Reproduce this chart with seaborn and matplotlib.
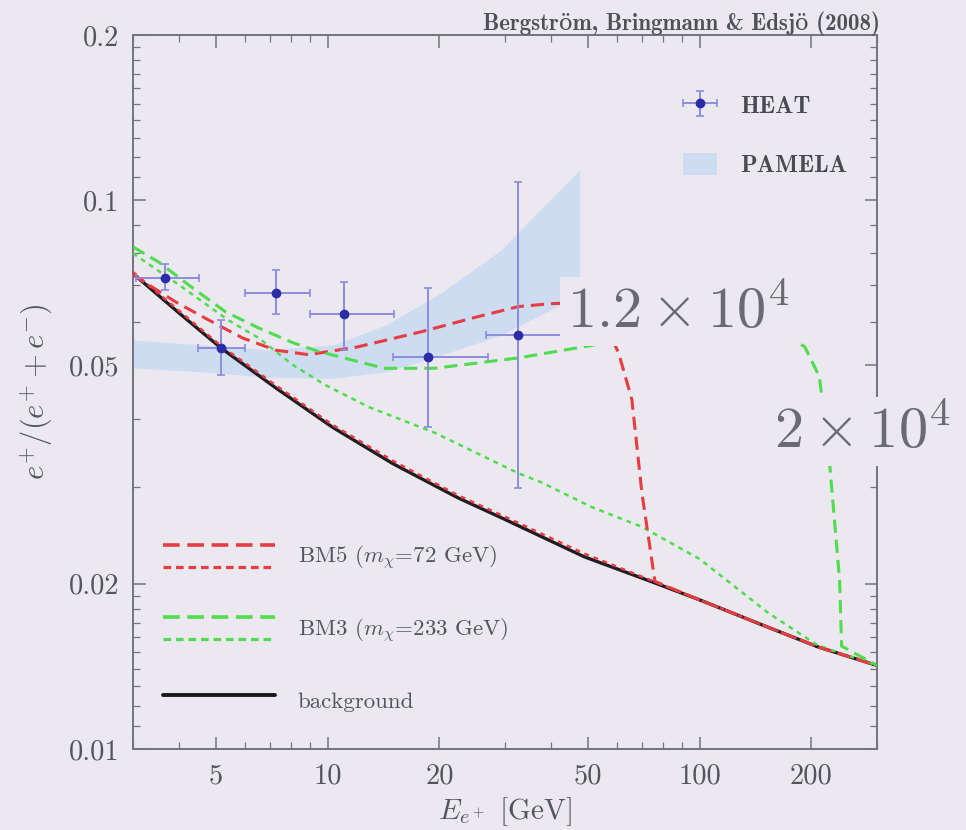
import matplotlib
matplotlib.use("Agg")
import matplotlib.pyplot as plt
import seaborn as sns
from matplotlib.ticker import FixedLocator, FixedFormatter, NullFormatter
from matplotlib.lines import Line2D
from matplotlib.legend_handler import HandlerBase, HandlerErrorbar
from matplotlib.container import ErrorbarContainer

# ---------------- data ----------------
bg_E = [3.0, 4.0, 5.17, 7.26, 10.3, 15.0, 22.4, 30.0, 49.0, 74.0, 100.0, 150.0, 208.0, 300.0]
bg_ratio = [0.0735, 0.0622, 0.0538, 0.0455, 0.0386, 0.0331, 0.0287, 0.0262, 0.0224, 0.0202,
            0.0187, 0.01675, 0.01535, 0.0142]

bm5_dash_E = [3.0, 3.9, 4.79, 5.91, 7.26, 8.9, 12.0, 17.9, 25.0, 32.6, 40.0, 46.0, 50.0, 55.0,
              58.0, 60.6, 65.8, 70.0, 75.9, 100.0, 150.0, 208.0, 300.0]
bm5_dash_ratio = [0.0731, 0.0653, 0.0605, 0.0561, 0.0533, 0.0523, 0.0540, 0.0576, 0.0612, 0.0640,
                  0.0648, 0.0650, 0.0645, 0.0610, 0.0561, 0.0527, 0.0433, 0.0293, 0.0202, 0.0187,
                  0.01675, 0.01535, 0.0142]

bm5_dot_E = [3.0, 4.0, 5.17, 7.26, 10.3, 15.0, 22.4, 30.0, 49.0, 74.0, 100.0, 150.0, 208.0, 300.0]
bm5_dot_ratio = [0.0740, 0.0628, 0.0543, 0.0460, 0.0390, 0.0335, 0.0290, 0.0265, 0.0227, 0.0203,
                 0.0187, 0.01675, 0.01535, 0.0142]

bm3_dash_E = [3.0, 3.51, 4.34, 5.32, 6.53, 8.07, 9.48, 14.2, 19.4, 32.6, 52.3, 58.0, 70.0, 100.0,
              140.0, 174.0, 192.0, 210.0, 223.0, 238.0, 241.0, 300.0]
bm3_dash_ratio = [0.0822, 0.0772, 0.0692, 0.0626, 0.0585, 0.0550, 0.0530, 0.0494, 0.0494, 0.0516,
                  0.0545, 0.0561, 0.0565, 0.0567, 0.0567, 0.0565, 0.0540, 0.0477, 0.0340, 0.0203,
                  0.0154, 0.0142]

bm3_dot_E = [3.0, 4.0, 5.4, 6.53, 8.07, 9.9, 12.9, 19.4, 32.6, 37.6, 51.3, 70.0, 100.0, 112.0,
             153.0, 192.0, 208.0, 300.0]
bm3_dot_ratio = [0.0800, 0.0700, 0.0605, 0.0561, 0.0501, 0.0460, 0.0420, 0.0377, 0.0318, 0.0306,
                 0.0276, 0.0254, 0.0222, 0.0209, 0.0177, 0.0160, 0.01545, 0.0142]

heat_E = [3.66, 5.17, 7.26, 11.1, 18.6, 32.6]
heat_ratio = [0.0721, 0.0538, 0.0678, 0.0621, 0.0519, 0.0568]
heat_E_lo = [3.05, 4.48, 6.0, 9.0, 15.0, 26.7]
heat_E_hi = [4.5, 6.0, 9.0, 15.1, 27.0, 43.3]
heat_ratio_lo = [0.0687, 0.0481, 0.0620, 0.0533, 0.0386, 0.0299]
heat_ratio_hi = [0.0765, 0.0605, 0.0747, 0.0710, 0.0692, 0.108]

pam_E = [3.0, 4.56, 6.91, 10.4, 14.4, 20.2, 29.3, 47.6]
pam_lo = [0.0495, 0.0487, 0.0476, 0.0474, 0.0487, 0.0522, 0.0568, 0.0672]
pam_hi = [0.0556, 0.0545, 0.0534, 0.0545, 0.0593, 0.0678, 0.0812, 0.1135]

xticks = [5, 10, 20, 50, 100, 200]
xticklabels = ["5", "10", "20", "50", "100", "200"]
xminor = [3, 4, 6, 7, 8, 9, 30, 40, 60, 70, 80, 90, 300]
yticks = [0.01, 0.02, 0.05, 0.1, 0.2]
yticklabels = ["0.01", "0.02", "0.05", "0.1", "0.2"]
yminor = [0.011, 0.012, 0.013, 0.014, 0.015, 0.016, 0.017, 0.018, 0.019, 0.03, 0.04,
          0.06, 0.07, 0.08, 0.09, 0.11, 0.12, 0.13, 0.14, 0.15, 0.16, 0.17, 0.18, 0.19]

# ---------------- style ----------------
BG = "#ebe8f0"
RED = "#e63c42"
GREEN = "#4fdc4f"
TXT = "#555559"
SPINE = "#727280"

sns.set_theme(style="ticks")
plt.rcParams["font.family"] = ["cmr10", "DejaVu Serif"]
plt.rcParams["mathtext.fontset"] = "cm"
plt.rcParams["axes.unicode_minus"] = False
plt.rcParams["lines.scale_dashes"] = False

DASH = (0, (9.5, 5))
DOT = (0, (3.5, 3.5))

fig = plt.figure(figsize=(9.66, 8.3), dpi=100, facecolor=BG)
ax = fig.add_axes([0.13768, 0.09759, 0.77019, 0.86024])
ax.set_facecolor(BG)
ax.set_xscale("log")
ax.set_yscale("log")

# PAMELA band
band = ax.fill_between(pam_E, pam_lo, pam_hi, color="#cddcf0", lw=0, zorder=1, label="PAMELA")

# model curves
sns.lineplot(x=bg_E, y=bg_ratio, ax=ax, color="#201c22", lw=2.4, zorder=3,
             estimator=None, sort=False)
sns.lineplot(x=bm5_dot_E, y=bm5_dot_ratio, ax=ax, color=RED, lw=1.8, linestyle=DOT, zorder=4,
             estimator=None, sort=False)
sns.lineplot(x=bm3_dot_E, y=bm3_dot_ratio, ax=ax, color=GREEN, lw=1.8, linestyle=DOT, zorder=4,
             estimator=None, sort=False)
sns.lineplot(x=bm5_dash_E, y=bm5_dash_ratio, ax=ax, color=RED, lw=2.2, linestyle=DASH, zorder=4,
             estimator=None, sort=False)
sns.lineplot(x=bm3_dash_E, y=bm3_dash_ratio, ax=ax, color=GREEN, lw=2.2, linestyle=DASH, zorder=4,
             estimator=None, sort=False)

# HEAT data
xerr = [[c - lo for c, lo in zip(heat_E, heat_E_lo)], [hi - c for c, hi in zip(heat_E, heat_E_hi)]]
yerr = [[c - lo for c, lo in zip(heat_ratio, heat_ratio_lo)],
        [hi - c for c, hi in zip(heat_ratio, heat_ratio_hi)]]
heat = ax.errorbar(heat_E, heat_ratio, xerr=xerr, yerr=yerr, fmt="o", ms=6,
                   mfc="#2c2ca8", mec="#2c2ca8", ecolor="#8c8cdc", elinewidth=1.4,
                   capsize=3, capthick=1.2, zorder=5, label="HEAT")

# axes, ticks
ax.set_xlim(3, 300)
ax.set_ylim(0.01, 0.2)
ax.xaxis.set_major_locator(FixedLocator(xticks))
ax.xaxis.set_major_formatter(FixedFormatter(xticklabels))
ax.xaxis.set_minor_locator(FixedLocator(xminor))
ax.xaxis.set_minor_formatter(NullFormatter())
ax.yaxis.set_major_locator(FixedLocator(yticks))
ax.yaxis.set_major_formatter(FixedFormatter(yticklabels))
ax.yaxis.set_minor_locator(FixedLocator(yminor))
ax.yaxis.set_minor_formatter(NullFormatter())
ax.tick_params(which="both", direction="in", top=True, right=True, color=SPINE,
               labelcolor=TXT, labelsize=20.5, pad=10)
ax.tick_params(which="major", length=9, width=1.1)
ax.tick_params(which="minor", length=5, width=0.9)
for s in ax.spines.values():
    s.set_color(SPINE)
    s.set_linewidth(1.4)

ax.set_xlabel(r"$E_{e^+}$ [GeV]", fontsize=21, color=TXT)
ax.set_ylabel(r"$e^{+}/(e^{+}+e^{-})$", fontsize=22, color=TXT)
ax.xaxis.set_label_coords(0.5, -0.065)
ax.yaxis.set_label_coords(-0.105, 0.5)

# big annotations
lab_bbox = dict(boxstyle="square,pad=0.12", fc=BG, ec="none")
ax.text(0.583, 0.5896, r"$1.2\times10^{4}$", transform=ax.transAxes, fontsize=42,
        color="#6a6a72", ha="left", va="baseline", bbox=lab_bbox, zorder=7, clip_on=False)
ax.text(0.861, 0.4216, r"$2\times10^{4}$", transform=ax.transAxes, fontsize=42,
        color="#6a6a72", ha="left", va="baseline", bbox=lab_bbox, zorder=7, clip_on=False)

fig.text(0.911, 0.964, "Bergström, Bringmann & Edsjö (2008)", ha="right", va="baseline",
         fontsize=16.5, color="#505055", family=["cmb10", "DejaVu Serif"])


# legend handler for stacked pairs of lines
class StackedLines(HandlerBase):
    def create_artists(self, legend, orig_handle, xdescent, ydescent, width, height,
                       fontsize, trans):
        n = len(orig_handle)
        ymid = (height - ydescent) / 2.0 - 0.2 * fontsize
        gap = 0.97 * fontsize
        arts = []
        for i, h in enumerate(orig_handle):
            y = ymid + gap * ((n - 1) / 2.0 - i)
            ln = Line2D([-xdescent, width - xdescent], [y, y])
            ln.update_from(h)
            ln.set_transform(trans)
            arts.append(ln)
        return arts


h_r1 = Line2D([], [], color=RED, lw=2.6, linestyle=(0, (12, 5.5)))
h_r2 = Line2D([], [], color=RED, lw=2.3, linestyle=(0, (5.5, 3.5)))
h_g1 = Line2D([], [], color=GREEN, lw=2.6, linestyle=(0, (12, 5.5)))
h_g2 = Line2D([], [], color=GREEN, lw=2.3, linestyle=(0, (5.5, 3.5)))
h_bg = Line2D([], [], color="#1a1a1a", lw=2.8)

LFS = 16.5
leg1 = ax.legend([(h_r1, h_r2), (h_g1, h_g2), h_bg],
                 [r"BM5 ($m_\chi$=72 GeV)", r"BM3 ($m_\chi$=233 GeV)", "background"],
                 handler_map={tuple: StackedLines()}, loc="center left",
                 bbox_to_anchor=(0.0403, 0.169), frameon=False, fontsize=LFS,
                 handlelength=112 / (LFS * 100 / 72), handleheight=2.0, labelspacing=1.6,
                 handletextpad=1.0, borderpad=0, borderaxespad=0, labelcolor=TXT)
ax.add_artist(leg1)

leg2 = ax.legend([heat, band], ["HEAT", "PAMELA"], loc="center left",
                 bbox_to_anchor=(0.739, 0.859), frameon=False,
                 handlelength=1.4, handleheight=1.0, labelspacing=1.45, handletextpad=0.95,
                 borderpad=0, borderaxespad=0, labelcolor="#4a4a50",
                 prop={"family": ["cmb10", "DejaVu Serif"], "size": 17.5},
                 handler_map={ErrorbarContainer: HandlerErrorbar(xerr_size=0.7, yerr_size=0.5)})

fig.savefig("out.png", dpi=100, facecolor=BG)
